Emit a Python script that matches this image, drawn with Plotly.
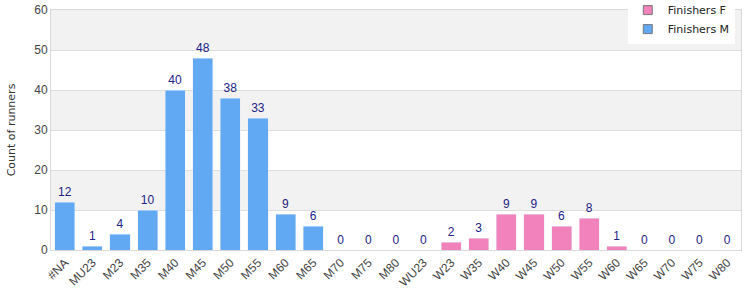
import plotly.graph_objects as go

categories = ["#NA", "MU23", "M23", "M35", "M40", "M45", "M50", "M55", "M60", "M65",
              "M70", "M75", "M80", "WU23", "W23", "W35", "W40", "W45", "W50", "W55",
              "W60", "W65", "W70", "W75", "W80"]
finishers_m = [12, 1, 4, 10, 40, 48, 38, 33, 9, 6, 0, 0, 0, 0] + [None] * 11
finishers_f = [None] * 14 + [2, 3, 9, 9, 6, 8, 1, 0, 0, 0, 0]
y_ticks = [0, 10, 20, 30, 40, 50, 60]

BLUE = "#61a9f3"
PINK = "#f282bb"
LABEL = "#222288"

fig = go.Figure()
fig.add_trace(go.Bar(name="Finishers M", x=categories, y=finishers_m, marker_color=BLUE,
                     text=[("" if v is None else str(v)) for v in finishers_m],
                     textposition="outside", cliponaxis=False, showlegend=False,
                     textfont=dict(color=LABEL, size=12, family="Liberation Sans")))
fig.add_trace(go.Bar(name="Finishers F", x=categories, y=finishers_f, marker_color=PINK,
                     text=[("" if v is None else str(v)) for v in finishers_f],
                     textposition="outside", cliponaxis=False, showlegend=False,
                     textfont=dict(color=LABEL, size=12, family="Liberation Sans")))
# legend entries (square swatches)
for name, col in [("Finishers F", PINK), ("Finishers M", BLUE)]:
    fig.add_trace(go.Scatter(name=name, x=[None], y=[None], mode="markers",
                             marker=dict(symbol="square", size=9, color=col,
                                         line=dict(color="#777777", width=1))))

shapes = []
for lo in [10, 30, 50]:
    shapes.append(dict(type="rect", xref="paper", yref="y", x0=0, x1=1, y0=lo, y1=lo + 10,
                       fillcolor="#f2f2f2", line_width=0, layer="below"))

fig.update_layout(
    width=750, height=300,
    margin=dict(l=51, r=9, t=10, b=50, autoexpand=False),
    barmode="stack", bargap=0.27,
    plot_bgcolor="white", paper_bgcolor="white",
    font=dict(family="DejaVu Sans", size=11, color="#444"),
    shapes=shapes,
    showlegend=True,
    legend=dict(x=0.991, y=1.06, xanchor="right", yanchor="top",
                traceorder="normal", bgcolor="white",
                font=dict(family="DejaVu Sans", size=11, color="#222"),
                itemwidth=30, tracegroupgap=0),
)
fig.update_xaxes(type="category", categoryorder="array", categoryarray=categories,
                 tickangle=-45, showline=True, mirror=True, linecolor="#d9d9d9",
                 tickfont=dict(family="Liberation Sans", size=12, color="#444"),
                 ticks="", showgrid=False, automargin=False)
fig.update_yaxes(range=[0, 60], tickvals=y_ticks, showline=True, mirror=True,
                 linecolor="#d9d9d9", gridcolor="#dddddd", zeroline=False, automargin=False,
                 title=dict(text="Count of runners", font=dict(family="DejaVu Sans", size=11, color="#333"), standoff=16),
                 tickfont=dict(family="Liberation Sans", size=12, color="#444"), ticks="")

fig.write_html("out.html")
